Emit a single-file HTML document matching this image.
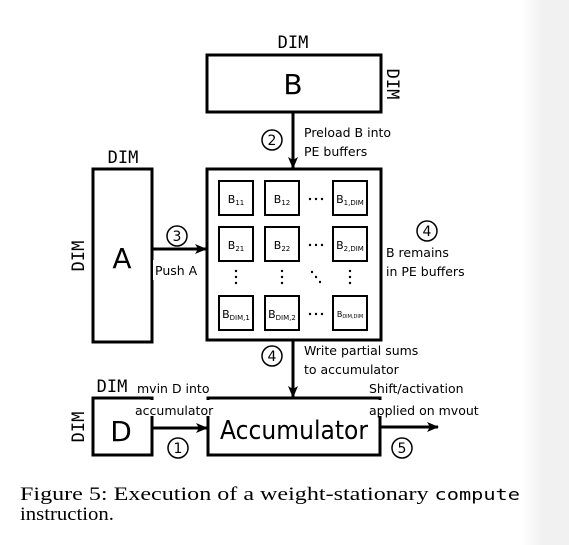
<!DOCTYPE html>
<html><head><meta charset="utf-8"><style>
html,body{margin:0;padding:0;background:#fff}
svg{display:block}
.s{font-family:"DejaVu Sans","Liberation Sans",sans-serif}
.m{font-family:"DejaVu Sans Mono","Liberation Mono",monospace}
.r{font-family:"Liberation Serif",serif}
</style></head><body>
<svg width="569" height="545" viewBox="0 0 569 545" xmlns="http://www.w3.org/2000/svg">
<defs>
<linearGradient id="g" x1="0" x2="1"><stop offset="0" stop-color="#fff"/><stop offset="1" stop-color="#f1f1f1"/></linearGradient>
<marker id="ah" markerWidth="12" markerHeight="10" refX="11" refY="5" orient="auto" markerUnits="userSpaceOnUse"><path d="M0,0 L12,5 L0,10 L3,5 Z" fill="#000"/></marker>
</defs>
<rect x="0" y="0" width="569" height="545" fill="#fff"/>
<rect x="522" y="0" width="20" height="545" fill="url(#g)"/>
<rect x="541" y="0" width="28" height="545" fill="#f1f1f1"/>
<g fill="none" stroke="#000" stroke-width="3">
<rect x="207" y="55" width="174" height="57"/>
<rect x="207" y="169" width="174" height="171"/>
<rect x="93" y="169" width="59" height="173"/>
<rect x="208" y="398" width="172" height="57"/>
<rect x="93" y="398" width="59" height="57"/>
</g>
<g fill="none" stroke="#000" stroke-width="2">
<rect x="219" y="181" width="34" height="34"/><rect x="265" y="181" width="34" height="34"/><rect x="333" y="181" width="34" height="34"/>
<rect x="219" y="227" width="34" height="34"/><rect x="265" y="227" width="34" height="34"/><rect x="333" y="227" width="34" height="34"/>
<rect x="219" y="296" width="34" height="34"/><rect x="265" y="296" width="34" height="34"/><rect x="333" y="296" width="34" height="34"/>
</g>
<g stroke="#000" stroke-width="3" marker-end="url(#ah)">
<line x1="293" y1="112" x2="293" y2="168"/>
<line x1="152" y1="249" x2="206" y2="249"/>
<line x1="293" y1="340" x2="293" y2="397"/>
<line x1="152" y1="428" x2="207" y2="428"/>
<line x1="380" y1="427" x2="438" y2="427"/>
</g>
<g fill="#fff">
<rect x="153" y="260" width="52" height="20"/>
<rect x="134" y="380" width="86" height="10"/>
<rect x="134" y="400" width="84" height="16"/>
<rect x="368" y="378" width="110" height="14"/>
<rect x="368" y="400" width="120" height="16"/>
</g>
<g fill="none" stroke="#000" stroke-width="1.5">
<circle cx="272" cy="140" r="10"/><circle cx="177" cy="236" r="10"/><circle cx="427" cy="231" r="10"/>
<circle cx="272" cy="356" r="10"/><circle cx="178" cy="448" r="10"/><circle cx="402" cy="448" r="10"/>
</g>
<g class="s" font-size="14" text-anchor="middle">
<text x="272" y="145">2</text><text x="177" y="241">3</text><text x="427" y="236">4</text>
<text x="272" y="361">4</text><text x="178" y="453">1</text><text x="402" y="453">5</text>
</g>
<g class="m" font-size="17" text-anchor="middle">
<text x="293" y="48">DIM</text>
<text x="123" y="163">DIM</text>
<text x="112" y="392">DIM</text>
<text transform="translate(387,84) rotate(90)">DIM</text>
<text transform="translate(84,256) rotate(-90)">DIM</text>
<text transform="translate(84,427) rotate(-90)">DIM</text>
</g>
<g class="s" text-anchor="middle">
<text x="293" y="94" font-size="28">B</text>
<text x="122" y="268" font-size="28">A</text>
<text x="121" y="441" font-size="28">D</text>
<text x="294" y="439" font-size="26" textLength="148" lengthAdjust="spacingAndGlyphs">Accumulator</text>
</g>
<g class="s" font-size="12.5" fill="#000">
<text x="304" y="137">Preload B into</text>
<text x="304" y="156">PE buffers</text>
<text x="155" y="275">Push A</text>
<text x="386" y="257">B remains</text>
<text x="386" y="276">in PE buffers</text>
<text x="304" y="355">Write partial sums</text>
<text x="304" y="374">to accumulator</text>
<text x="137" y="393">mvin D into</text>
<text x="135" y="415">accumulator</text>
<text x="369" y="393">Shift/activation</text>
<text x="369" y="415">applied on mvout</text>
</g>
<g class="s" font-size="11" text-anchor="middle">
<text x="236" y="203">B<tspan font-size="7" dy="2">11</tspan></text>
<text x="282" y="203">B<tspan font-size="7" dy="2">12</tspan></text>
<text x="350" y="203">B<tspan font-size="7" dy="2">1,DIM</tspan></text>
<text x="236" y="249">B<tspan font-size="7" dy="2">21</tspan></text>
<text x="282" y="249">B<tspan font-size="7" dy="2">22</tspan></text>
<text x="350" y="249">B<tspan font-size="7" dy="2">2,DIM</tspan></text>
<text x="236" y="318">B<tspan font-size="7" dy="2">DIM,1</tspan></text>
<text x="282" y="318">B<tspan font-size="7" dy="2">DIM,2</tspan></text>
<text x="350" y="317" font-size="8">B<tspan font-size="5" dy="1">DIM,DIM</tspan></text>
</g>
<g fill="#000">
<circle cx="310" cy="199" r="1.2"/><circle cx="316" cy="199" r="1.2"/><circle cx="322" cy="199" r="1.2"/>
<circle cx="310" cy="245" r="1.2"/><circle cx="316" cy="245" r="1.2"/><circle cx="322" cy="245" r="1.2"/>
<circle cx="310" cy="314" r="1.2"/><circle cx="316" cy="314" r="1.2"/><circle cx="322" cy="314" r="1.2"/>
<circle cx="236" cy="271" r="1.2"/><circle cx="236" cy="277" r="1.2"/><circle cx="236" cy="283" r="1.2"/>
<circle cx="282" cy="271" r="1.2"/><circle cx="282" cy="277" r="1.2"/><circle cx="282" cy="283" r="1.2"/>
<circle cx="350" cy="271" r="1.2"/><circle cx="350" cy="277" r="1.2"/><circle cx="350" cy="283" r="1.2"/>
<circle cx="312" cy="272" r="1.2"/><circle cx="316" cy="277" r="1.2"/><circle cx="320" cy="282" r="1.2"/>
</g>
<g class="r" font-size="19">
<text x="20" y="500" textLength="500" lengthAdjust="spacingAndGlyphs">Figure 5:  Execution of a weight-stationary <tspan class="m" font-size="16">compute</tspan></text>
<text x="20" y="520" textLength="94" lengthAdjust="spacingAndGlyphs">instruction.</text>
</g>
</svg>
</body></html>
